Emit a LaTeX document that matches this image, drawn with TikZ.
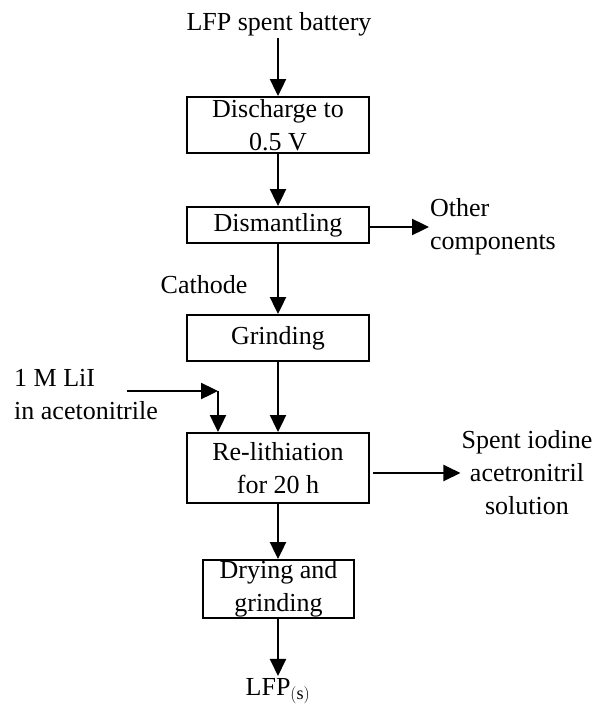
\documentclass[tikz,border=0pt]{standalone}
\usepackage{fontspec}
\setmainfont{Liberation Serif}
\usetikzlibrary{arrows.meta}
\begin{document}
\begin{tikzpicture}[x=1pt,y=-1pt,
  every node/.style={font=\fontsize{26}{33}\selectfont, inner sep=2pt},
  stepbox/.style={draw, line width=2pt, align=center, minimum width=182pt, inner sep=0pt},
  arr/.style={line width=2.4pt, -{Triangle[length=17pt,width=16pt]}},
  lbl/.style={align=center}]
\useasboundingbox (0,0) rectangle (594,704);
\node (top) at (279,24) {LFP spent battery};
\node[stepbox, minimum height=56pt] (d1) at (278,125) {Discharge to\\0.5 V};
\node[stepbox, minimum height=36pt] (d2) at (278,225) {Dismantling};
\node[stepbox, minimum height=46pt] (d3) at (278,338) {Grinding};
\node[stepbox, minimum height=70pt] (d4) at (278,468) {Re-lithiation\\for 20 h};
\node[stepbox, minimum width=151pt, minimum height=58pt] (d5) at (278.5,589) {Drying and\\grinding};
\node (out) at (278,691) {LFP$_{\fontsize{18}{18}\selectfont(\mathrm{s})}$};
\node (cath) at (204,285) {Cathode};
\node[anchor=west, align=left, inner sep=1pt] (other) at (429,227) {Other\\components};
\node[anchor=west, align=left] (lii) at (12,395) {1 M LiI\\in acetonitrile};
\node[lbl, inner sep=1pt] (spent) at (527,473) {Spent iodine\\acetronitril\\solution};
\coordinate (listart) at (127,391);
\coordinate (corner) at (218,391);
\draw[arr] (d1.north |- top.south) -- (d1.north);
\draw[arr] (d1.south) -- (d2.north);
\draw[arr] (d2.south) -- (d3.north);
\draw[arr] (d3.south) -- (d4.north);
\draw[arr] (d4.south) -- (d4.south |- d5.north);
\draw[arr] (d4.south |- d5.south) -- (d4.south |- out.north);
\draw[arr] (d2.east |- other.west) -- (other.west);
\draw[arr] (listart) -- (corner);
\draw[arr] (corner) -- (corner |- d4.north);
\draw[arr] (d4.east |- spent.west) ++(3,0) -- (spent.west);
\end{tikzpicture}
\end{document}
